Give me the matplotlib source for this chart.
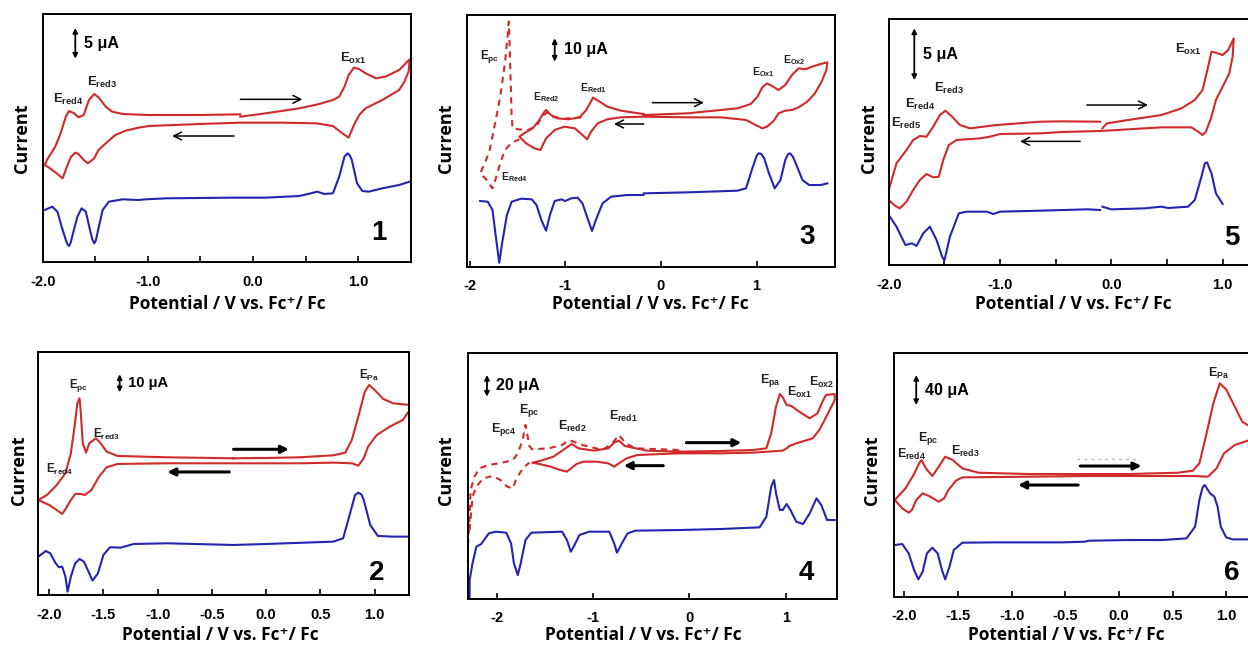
import numpy as np
import matplotlib
matplotlib.use("Agg")
from matplotlib import pyplot as plt

# Six CV / DPV panels, currents in arbitrary units
RED = "#d02a2a"
BLUE = "#2424b0"

# ---------------- panel 1 ----------------
p1_cv_x = [-0.12, 0.12, 0.44, 0.63, 0.76, 0.82, 0.87, 0.91, 0.96, 1.01, 1.07, 1.17, 1.26, 1.39, 1.49,
           1.48, 1.44, 1.39, 1.23, 1.07, 1.01, 0.96, 0.91, 0.85, 0.76, 0.60, 0.28, -0.12, -0.51, -0.99,
           -1.09, -1.21, -1.31, -1.40, -1.47, -1.51, -1.57, -1.61, -1.66, -1.69, -1.73, -1.77, -1.81,
           -1.86, -1.93, -1.98,
           -1.96, -1.88, -1.83, -1.78, -1.75, -1.70, -1.66, -1.61, -1.56, -1.51, -1.47, -1.40, -1.34,
           -1.24, -0.99, -0.51, -0.12]
p1_cv_y = [436, 446, 461, 474, 486, 496, 526, 561, 583, 579, 566, 551, 556, 576, 608,
           571, 541, 516, 486, 461, 441, 411, 373, 386, 408, 416, 418, 418, 414, 408,
           403, 394, 381, 356, 336, 311, 296, 306, 324, 328, 316, 286, 251,
           264, 281, 291,
           306, 346, 386, 436, 453, 446, 434, 441, 486, 504, 494, 466, 451,
           444, 441, 441, 443]
p1_dpv_x = [-1.98, -1.91, -1.86, -1.82, -1.78, -1.765, -1.75, -1.735, -1.72, -1.67, -1.63, -1.59, -1.55,
            -1.53, -1.51, -1.495, -1.48, -1.43, -1.37, -1.24, -1.09, -1.02, -0.83, -0.20, 0.12, 0.44,
            0.55, 0.61, 0.68, 0.76, 0.82, 0.87, 0.90, 0.92, 0.94, 0.99, 1.04, 1.10, 1.23, 1.39, 1.49]
p1_dpv_y = [156, 166, 151, 106, 66, 54, 48, 57, 76, 136, 161, 151, 96,
            70, 56, 64, 86, 156, 181, 188, 186, 188, 191, 193, 193, 198,
            206, 211, 204, 206, 256, 316, 326, 320, 306, 236, 213, 211, 221, 231, 241]

# ---------------- panel 3 ----------------
p3_cv_x = [-0.18, 0.28, 0.80, 0.94, 1.01, 1.06, 1.11, 1.16, 1.23, 1.30, 1.37, 1.44, 1.51, 1.58, 1.67, 1.74,
           1.73, 1.68, 1.61, 1.53, 1.44, 1.37, 1.30, 1.23, 1.18, 1.11, 1.06, 0.99, 0.89, 0.63, 0.28, -0.18,
           -0.42, -0.56, -0.66, -0.73, -0.77, -0.82, -0.90, -1.01, -1.11, -1.20, -1.26, -1.32, -1.41, -1.48,
           -1.42, -1.34, -1.27, -1.23, -1.20, -1.15, -1.08, -0.97, -0.85, -0.78, -0.71, -0.64, -0.56,
           -0.42, -0.28, -0.18]
p3_cv_y = [455, 460, 475, 488, 510, 538, 550, 542, 530, 545, 575, 595, 592, 600, 608, 613,
           590, 555, 520, 495, 478, 470, 468, 460, 438, 420, 415, 425, 440, 448, 448, 450,
           448, 442, 430, 405, 382, 395, 415, 420, 410, 385, 350, 355, 370, 390,
           402, 415, 440, 460, 470, 455, 445, 442, 448, 470, 507, 495, 480,
           468, 462, 458]
p3_cv2_x = [-0.83, -1.01, -1.13, -1.19, -1.24, -1.30, -1.39, -1.49, -1.55, -1.56, -1.57, -1.58, -1.59,
            -1.60, -1.63, -1.68, -1.74, -1.79, -1.84, -1.89, -1.82, -1.76, -1.72, -1.68, -1.63, -1.56, -1.48]
p3_cv2_y = [448, 444, 450, 462, 452, 422, 410, 412, 415, 450, 550, 650, 735,
            700, 610, 510, 420, 350, 310, 280, 260, 235, 270, 310, 350, 372, 382]
p3_dpv_x = [-1.89, -1.81, -1.76, -1.73, -1.69, -1.66, -1.61, -1.56, -1.46, -1.35, -1.30, -1.25, -1.20,
            -1.16, -1.11, -1.04, -1.00, -0.94, -0.87, -0.82, -0.76, -0.72, -0.68, -0.61, -0.52, -0.35,
            -0.18, -0.18, 0.28, 0.80, 0.89, 0.95, 1.00, 1.02, 1.05, 1.08, 1.13, 1.19, 1.25, 1.30, 1.33,
            1.35, 1.38, 1.41, 1.48, 1.55, 1.67, 1.74]
p3_dpv_y = [197, 195, 170, 100, 12, 70, 155, 195, 204, 202, 185, 140, 108,
            155, 197, 202, 197, 205, 207, 190, 140, 107, 140, 190, 210, 215,
            215, 220, 223, 228, 235, 290, 332, 340, 338, 325, 280, 235, 260, 320, 338,
            340, 330, 310, 260, 245, 245, 250]

# ---------------- panel 5 ----------------
p5_cv_x = [-0.08, -0.04, 0.15, 0.45, 0.63, 0.75, 0.82, 0.87, 0.90, 0.94, 1.00, 1.05, 1.10,
           1.09, 1.06, 1.00, 0.94, 0.90, 0.85, 0.82, 0.78, 0.72, 0.45, 0.15, -0.10,
           -0.45, -0.64, -1.00, -1.09, -1.18, -1.39, -1.46, -1.51, -1.55, -1.60, -1.66, -1.72, -1.78,
           -1.84, -1.90, -1.94, -2.00,
           -2.00, -1.93, -1.84, -1.78, -1.72, -1.66, -1.60, -1.54, -1.49, -1.43, -1.36, -1.27, -1.03,
           -0.64, -0.45, -0.10]
p5_cv_y = [410, 425, 435, 450, 470, 495, 525, 595, 640, 637, 630, 645, 680,
           625, 575, 535, 495, 445, 400, 390, 400, 413, 413, 407, 402,
           399, 395, 393, 385, 380, 375, 360, 315, 265, 263, 273, 255, 225,
           190, 170, 177, 195,
           225, 305, 345, 375, 387, 385, 415, 450, 463, 445, 420, 410, 420,
           430, 431, 430]
p5_dpv_x = [-2.00, -1.93, -1.85, -1.79, -1.75, -1.69, -1.63, -1.57, -1.52, -1.50, -1.45, -1.37, -1.30,
            -1.12, -1.06, -1.00, -0.64, -0.21, -0.10, np.nan,
            -0.08, 0.00, 0.30, 0.45, 0.51, 0.69, 0.75, 0.81, 0.84, 0.86, 0.90, 0.94, 1.00]
p5_dpv_y = [150, 115, 60, 65, 57, 95, 115, 75, 25, 13, 85, 155, 160,
            160, 153, 160, 163, 167, 165, np.nan,
            175, 167, 170, 175, 171, 175, 195, 265, 305, 308, 275, 215, 183]

# ---------------- panel 2 ----------------
p2_cv_x = [-0.30, 0.01, 0.31, 0.62, 0.73, 0.79, 0.85, 0.91, 0.95, 1.00, 1.08, 1.17, 1.32,
           1.32, 1.26, 1.14, 1.02, 0.94, 0.90, 0.85, 0.79, 0.62, 0.31, -0.30,
           -0.91, -1.37, -1.47, -1.54, -1.61, -1.67, -1.71, -1.76, -1.80, -1.85, -1.88, -1.93, -2.00, -2.10,
           -2.02, -1.93, -1.85, -1.80, -1.77, -1.74, -1.72, -1.71, -1.69, -1.66, -1.63, -1.57, -1.53,
           -1.47, -1.37, -0.91, -0.30]
p2_cv_y = [411, 412, 414, 420, 428, 466, 536, 611, 631, 616, 589, 576, 571,
           554, 526, 506, 481, 446, 411, 389, 396, 398, 396, 396,
           396, 394, 384, 356, 316, 301, 304, 304, 286, 258, 244, 256, 271, 286,
           301, 331, 366, 426, 496, 576, 591, 556, 456, 428, 456, 471, 458,
           431, 418, 414, 411]
p2_dpv_x = [-2.10, -2.03, -1.99, -1.94, -1.91, -1.88, -1.85, -1.83, -1.80, -1.76, -1.72, -1.68, -1.63,
            -1.60, -1.55, -1.50, -1.44, -1.34, -1.22, -0.91, -0.30, 0.01, 0.62, 0.71, 0.77, 0.82, 0.85,
            0.88, 0.90, 0.96, 1.03, 1.17, 1.32]
p2_dpv_y = [116, 133, 126, 96, 84, 86, 56, 11, 56, 96, 109, 101, 66,
            44, 66, 121, 144, 143, 154, 156, 151, 154, 161, 171, 241, 301, 308,
            302, 286, 211, 178, 176, 176]

# ---------------- panel 4 ----------------
p4_cv_x = [-0.10, 0.32, 0.66, 0.80, 0.85, 0.90, 0.94, 0.97, 1.01, 1.06, 1.14, 1.25, 1.33, 1.39, 1.42, 1.51,
           1.51, 1.44, 1.35, 1.28, 1.11, 1.04, 1.01, 0.97, 0.66, 0.32, -0.10,
           -0.54, -0.65, -0.72, -0.78, -0.84, -0.96, -1.10, -1.17, -1.27, -1.34, -1.44, -1.54, -1.63,
           -1.54, -1.41, -1.30, -1.22, -1.15, -0.99, -0.84, -0.78, -0.73, -0.67, -0.44, -0.10]
p4_cv_y = [441, 443, 446, 451, 496, 576, 614, 604, 581, 578, 561, 541, 556, 596, 611, 614,
           596, 556, 506, 481, 466, 458, 451, 444, 438, 436, 436,
           431, 421, 408, 396, 406, 411, 411, 404, 381, 386, 396, 403, 408,
           414, 426, 448, 464, 451, 444, 451, 468, 474, 458, 444, 441]
p4_cv2_x = [-0.11, -0.28, -0.56, -0.66, -0.73, -0.80, -0.90, -1.11, -1.20, -1.25, -1.32, -1.46, -1.63,
            -1.66, -1.69, -1.70, -1.73, -1.78, -1.83, -1.94, -2.08, -2.18, -2.23, -2.27, -2.28, -2.30]
p4_cv2_y = [446, 448, 451, 466, 491, 466, 446, 461, 471, 476, 461, 451, 448,
            458, 506, 521, 476, 436, 416, 408, 401, 391, 366, 326, 246, 146]
p4_cv3_x = [-2.28, -2.25, -2.21, -2.14, -2.04, -1.96, -1.89, -1.83, -1.80, -1.75, -1.71, -1.66]
p4_cv3_y = [206, 306, 336, 361, 368, 356, 336, 331, 356, 381, 396, 408]
p4_dpv_x = [-2.28, -2.28, -2.25, -2.21, -2.16, -2.13, -2.08, -2.01, -1.90, -1.85, -1.82, -1.78, -1.75,
            -1.70, -1.64, -1.32, -1.27, -1.23, -1.20, -1.14, -1.04, -0.83, -0.78, -0.75, -0.70, -0.64,
            -0.56, -0.10, 0.32, 0.73, 0.80, 0.85, 0.88, 0.90, 0.94, 0.97, 1.01, 1.05, 1.11, 1.18, 1.25,
            1.32, 1.37, 1.43, 1.51]
p4_dpv_y = [0, 56, 106, 156, 164, 176, 196, 201, 198, 166, 106, 71, 106,
            176, 198, 201, 176, 141, 156, 191, 201, 201, 166, 138, 166, 196,
            204, 206, 209, 214, 246, 336, 356, 316, 266, 266, 284, 266, 231, 224, 256,
            301, 281, 236, 236]

# ---------------- panel 6 ----------------
p6_cv_x = [-0.30, 0.09, 0.55, 0.69, 0.75, 0.81, 0.88, 0.94, 1.00, 1.08, 1.15, 1.25, 1.32,
           1.32, 1.20, 1.08, 0.98, 0.91, 0.83, 0.71, 0.40, 0.09, -0.30,
           -0.84, -1.46, -1.52, -1.59, -1.63, -1.68, -1.77, -1.83, -1.89, -1.93, -1.96, -2.02, -2.09,
           -1.99, -1.91, -1.86, -1.84, -1.80, -1.74, -1.68, -1.62, -1.55, -1.46, -1.31, -0.84, -0.30]
p6_cv_y = [368, 368, 372, 378, 400, 480, 580, 640, 622, 570, 525, 505, 500,
           485, 468, 455, 430, 385, 360, 362, 362, 362, 362,
           360, 358, 348, 320, 295, 285, 302, 310, 290, 260, 252, 265, 290,
           325, 368, 402, 410, 385, 362, 390, 420, 410, 385, 372, 368, 368]
p6_dpv_x = [-2.09, -2.02, -1.96, -1.91, -1.87, -1.83, -1.79, -1.74, -1.69, -1.65, -1.62, -1.58, -1.54,
            -1.46, -1.15, -0.53, -0.32, -0.28, 0.09, 0.40, 0.63, 0.71, 0.75, 0.78, 0.80, 0.85, 0.89,
            0.92, 0.95, 1.00, 1.06, 1.32]
p6_dpv_y = [155, 158, 130, 80, 52, 75, 130, 147, 130, 80, 52, 90, 140,
            162, 163, 163, 165, 168, 170, 170, 175, 210, 290, 328, 335, 310, 300,
            270, 210, 178, 172, 172]

W, H = 1248, 646
fig = plt.figure(figsize=(W / 100, H / 100), dpi=100)
plt.rcParams['mathtext.fontset'] = 'custom'
plt.rcParams['mathtext.rm'] = 'Liberation Sans:bold'
plt.rcParams['mathtext.it'] = 'Liberation Sans:bold'
plt.rcParams['mathtext.bf'] = 'Liberation Sans:bold'

SANS = ['Liberation Sans', 'DejaVu Sans']
LABEL = ['Open Sans', 'DejaVu Sans']


def make_axes(box, xlim, ymax, major, labels, minor):
    # box in pixels: left, top, right, bottom
    l, t, r, b = box
    ax = fig.add_axes([l / W, 1 - b / H, (r - l) / W, (b - t) / H])
    ax.set_xlim(*xlim)
    ax.set_ylim(0, ymax)
    ax.set_yticks([])
    ax.set_xticks(major)
    ax.set_xticklabels(labels, fontsize=10.5, fontweight='bold', family=SANS)
    ax.set_xticks(minor, minor=True)
    ax.tick_params(axis='x', which='both', direction='in', length=4, width=1.2, pad=9)
    for s in ax.spines.values():
        s.set_linewidth(1.4)
    return ax


def elab(ax, x, y, sub, fs):
    # y is the baseline of the E
    ax.text(x, y, r'E$_{\mathrm{%s}}$' % sub, fontsize=fs, fontweight='bold',
            family=SANS, ha='left', va='baseline', color='#222222')


def scalebar(ax, x, y0, y1, txt, fs=11.5):
    ax.annotate('', xy=(x, y0), xytext=(x, y1),
                arrowprops=dict(arrowstyle='<|-|>', lw=1.3, color='black', mutation_scale=7,
                                shrinkA=0, shrinkB=0))
    ax.text(x, (y0 + y1) / 2, '  ' + txt, fontsize=fs, fontweight='bold', family=SANS,
            ha='left', va='center')


def scan_arrow(ax, x0, x1, y, bold=False):
    if bold:
        props = dict(arrowstyle='-|>', lw=2.2, color='black', mutation_scale=11, shrinkA=0, shrinkB=0)
    else:
        props = dict(arrowstyle='->', lw=1.1, color='black', mutation_scale=14, shrinkA=0, shrinkB=0)
    ax.annotate('', xy=(x1, y), xytext=(x0, y), arrowprops=props)


def labels(ax, cx, cy, px, py, num, nx, ny):
    fig.text(cx / W, 1 - cy / H, 'Current', rotation=90, ha='center', va='center',
             fontsize=13, fontweight='bold', family=LABEL)
    fig.text(px / W, 1 - py / H, 'Potential / V vs. Fc\u207a/ Fc', ha='center', va='center',
             fontsize=12.5, fontweight='bold', family=LABEL)
    ax.text(nx, ny, num, fontsize=20, fontweight='bold', family=SANS, ha='center', va='center')


lw = 1.5

# panel 1
ax = make_axes((42.7, 14, 410.7, 262), (-2.0, 1.5), 744,
               [-2, -1, 0, 1], ['-2.0', '-1.0', '0.0', '1.0'], [-1.5, -0.5, 0.5])
ax.plot(p1_cv_x, p1_cv_y, color=RED, lw=lw)
ax.plot(p1_dpv_x, p1_dpv_y, color=BLUE, lw=lw)
scalebar(ax, -1.69, 702, 610, '5 \u03bcA')
elab(ax, 0.83, 601, 'ox1', 9.5)
elab(ax, -1.58, 529, 'red3', 9.5)
elab(ax, -1.90, 476, 'red4', 9.5)
scan_arrow(ax, -0.12, 0.47, 488)
scan_arrow(ax, -0.18, -0.77, 378)
labels(ax, 22.5, 138, 227, 304, '1', 1.20, 86)

# panel 3
ax = make_axes((466.7, 15.3, 835, 266.7), (-2.03, 1.82), 754,
               [-2, -1, 0, 1], ['-2', '-1', '0', '1'], [])
ax.plot(p3_cv2_x, p3_cv2_y, color=RED, lw=lw, ls=(0, (3, 2.5)))
ax.plot(p3_cv_x, p3_cv_y, color=RED, lw=lw)
ax.plot(p3_dpv_x, p3_dpv_y, color=BLUE, lw=lw)
scalebar(ax, -1.11, 685, 615, '10 \u03bcA', 11.5)
elab(ax, -1.89, 623, 'pc', 8.5)
elab(ax, -1.34, 500, 'Red2', 7.5)
elab(ax, -0.85, 525, 'Red1', 7.5)
elab(ax, 0.95, 575, 'Ox1', 7.5)
elab(ax, 1.28, 610, 'Ox2', 7.5)
elab(ax, -1.67, 260, 'Red4', 7.5)
scan_arrow(ax, -0.09, 0.45, 492)
scan_arrow(ax, -0.18, -0.49, 428)
labels(ax, 445.7, 138, 650, 304, '3', 1.53, 90)

# panel 5
ax = make_axes((888.7, 18.7, 1256, 265), (-2.0, 1.3), 739,
               [-2, -1, 0, 1], ['-2.0', '-1.0', '0.0', '1.0'], [-1.5, -0.5, 0.5])
ax.plot(p5_cv_x, p5_cv_y, color=RED, lw=lw)
ax.plot(p5_dpv_x, p5_dpv_y, color=BLUE, lw=lw)
scalebar(ax, -1.77, 710, 555, '5 \u03bcA')
elab(ax, 0.57, 637, 'ox1', 9.5)
elab(ax, -1.59, 520, 'red3', 9.5)
elab(ax, -1.85, 472, 'red4', 9.5)
elab(ax, -1.98, 414, 'red5', 9.5)
scan_arrow(ax, -0.22, 0.33, 480)
scan_arrow(ax, -0.28, -0.82, 371)
labels(ax, 868.7, 138, 1073, 304, '5', 1.08, 80)

# panel 2
ax = make_axes((38.3, 352.3, 409.3, 595.3), (-2.1, 1.32), 729,
               [-2, -1.5, -1, -0.5, 0, 0.5, 1],
               ['-2.0', '-1.5', '-1.0', '-0.5', '0.0', '0.5', '1.0'], [])
ax.plot(p2_cv_x, p2_cv_y, color=RED, lw=lw)
ax.plot(p2_dpv_x, p2_dpv_y, color=BLUE, lw=lw)
scalebar(ax, -1.35, 663, 609, '10 \u03bcA', 10.5)
elab(ax, -1.82, 623, 'pc', 8.5)
elab(ax, -1.60, 473, 'red3', 8.5)
elab(ax, -2.03, 367, 'red4', 8.5)
elab(ax, 0.86, 650, 'Pa', 8.5)
scan_arrow(ax, -0.30, 0.21, 438, bold=True)
scan_arrow(ax, -0.34, -0.91, 370, bold=True)
labels(ax, 19, 470, 220, 635, '2', 1.02, 66)

# panel 4
ax = make_axes((467.7, 353.3, 836.7, 598.7), (-2.3, 1.53), 736,
               [-2, -1, 0, 1], ['-2', '-1', '0', '1'], [])
ax.plot(p4_cv2_x, p4_cv2_y, color=RED, lw=lw, ls=(0, (3, 2.5)))
ax.plot(p4_cv3_x, p4_cv3_y, color=RED, lw=lw, ls=(0, (3, 2.5)))
ax.plot(p4_cv_x, p4_cv_y, color=RED, lw=lw)
ax.plot(p4_dpv_x, p4_dpv_y, color=BLUE, lw=lw)
scalebar(ax, -2.10, 671, 606, '20 \u03bcA')
elab(ax, 0.73, 646, 'pa', 9)
elab(ax, 1.01, 609, 'ox1', 9)
elab(ax, 1.24, 639, 'ox2', 9)
elab(ax, -1.77, 556, 'pc', 9)
elab(ax, -2.06, 499, 'pc4', 9)
elab(ax, -1.36, 506, 'red2', 9)
elab(ax, -0.83, 536, 'red1', 9)
scan_arrow(ax, -0.03, 0.54, 468, bold=True)
scan_arrow(ax, -0.27, -0.68, 399, bold=True)
labels(ax, 445.7, 470, 643, 635, '4', 1.21, 76)

# panel 6
ax = make_axes((893.7, 352.7, 1260.5, 596.7), (-2.1, 1.32), 732,
               [-2, -1.5, -1, -0.5, 0, 0.5, 1],
               ['-2.0', '-1.5', '-1.0', '-0.5', '0.0', '0.5', '1.0'], [])
ax.plot([-0.39, 0.16], [412, 412], color='#bbbbbb', lw=1, ls=(0, (2, 3)))
ax.plot(p6_cv_x, p6_cv_y, color=RED, lw=lw)
ax.plot(p6_dpv_x, p6_dpv_y, color=BLUE, lw=lw)
scalebar(ax, -1.89, 665, 575, '40 \u03bcA')
elab(ax, 0.83, 658, 'Pa', 9)
elab(ax, -2.07, 417, 'red4', 9)
elab(ax, -1.87, 468, 'pc', 9)
elab(ax, -1.57, 425, 'red3', 9)
scan_arrow(ax, -0.36, 0.21, 392, bold=True)
scan_arrow(ax, -0.38, -0.94, 335, bold=True)
labels(ax, 872, 470, 1066, 635, '6', 1.05, 70)

fig.savefig("out.png", dpi=100)
